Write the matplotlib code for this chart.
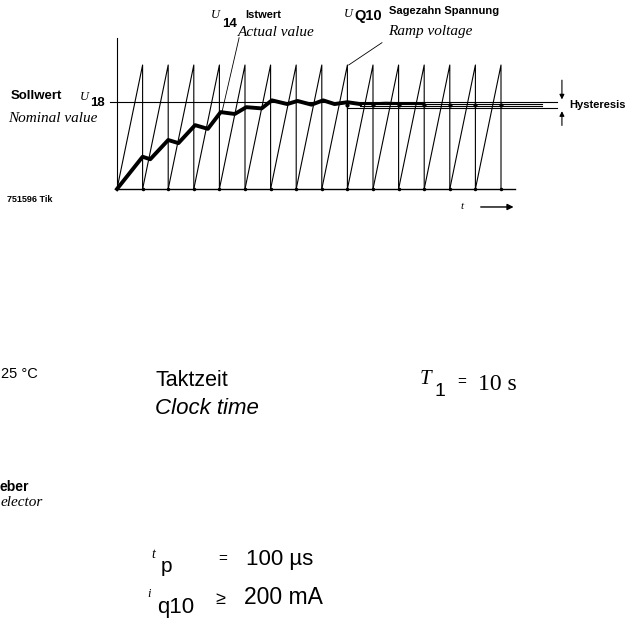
import matplotlib
matplotlib.use("Agg")
import matplotlib.pyplot as plt

W, H = 644, 630
SANS = ["Liberation Sans", "DejaVu Sans"]
SERIF = ["Liberation Serif", "DejaVu Serif"]

# sawtooth U_Q10: one ramp per clock period, drops at these times (clock periods)
ramp_drops = list(range(1, 16))
ramp_peak = 10.0
baseline_end = 15.55

# Sollwert U18 and hysteresis band
setpoint = 7.0
hyst_low = 6.5

# Istwert U14 (thick curve)
actual_t = [0, 1.0, 1.3, 2.0, 2.4, 3.05, 3.55, 4.05, 4.6, 5.05, 5.65,
            6.05, 6.65, 7.05, 7.6, 8.05, 8.5, 9.0, 9.5]
actual_v = [0, 2.6, 2.4, 3.95, 3.7, 5.15, 4.85, 6.2, 6.05, 6.6, 6.5,
            7.15, 6.85, 7.1, 6.8, 7.15, 6.85, 7.0, 6.85]

# thin settled traces inside the band
band_traces = [6.85, 6.7]
band_start, band_end = 9.5, 16.6

# pixel mapping of the drawing (scan geometry)
X0, PX_T = 117, 25.6
Y0, PX_V = 189, 12.4

fig = plt.figure(figsize=(W / 100, H / 100), dpi=100)
ax = fig.add_axes([0, 0, 1, 1])
ax.set_xlim(-X0 / PX_T, (W - X0) / PX_T)
ax.set_ylim(-(H - Y0) / PX_V, Y0 / PX_V)
ax.axis("off")

lw = 0.8
# axes of the sketch
ax.plot([0, 0], [0, 12.2], color="k", lw=lw)
ax.plot([0, baseline_end], [0, 0], color="k", lw=1.0)

# ramps
for k in ramp_drops:
    ax.plot([k - 1, k, k], [0, ramp_peak, 0], color="k", lw=lw)
ax.plot(ramp_drops, [0] * len(ramp_drops), "k.", ms=3)

# setpoint and hysteresis lines
ax.plot([-0.27, 17.2], [setpoint, setpoint], color="k", lw=lw)
ax.plot([9.0, 17.2], [hyst_low, hyst_low], color="k", lw=lw)
for v in band_traces:
    ax.plot([band_start, band_end], [v, v], color="k", lw=lw)
ax.plot([k for k in ramp_drops if k >= 9], [6.8] * 7, "k.", ms=4)

# actual value
ax.plot(actual_t, actual_v, color="k", lw=2.8, solid_joinstyle="round")
ax.plot([9.5, 10.5, 12], [6.85, 6.95, 6.85], color="k", lw=1.6)

# leader lines
ax.plot([4.77, 4.1], [12.2, 6.2], color="k", lw=0.6)
ax.plot([10.35, 9.05], [11.8, 10.0], color="k", lw=0.6)

# hysteresis arrows
hx = 17.38
ax.annotate("", xy=(hx, setpoint), xytext=(hx, 9.0),
            arrowprops=dict(arrowstyle="-|>", color="k", lw=0.8, mutation_scale=7))
ax.annotate("", xy=(hx, hyst_low), xytext=(hx, 4.9),
            arrowprops=dict(arrowstyle="-|>", color="k", lw=0.8, mutation_scale=7))

# time arrow
ax.annotate("", xy=(15.6, -1.45), xytext=(14.1, -1.45),
            arrowprops=dict(arrowstyle="-|>", color="k", lw=1.0, mutation_scale=9))


def put(x, y, s, size, family=SANS, **kw):
    fig.text(x / W, 1 - y / H, s, fontsize=size, family=family,
             va="center", ha="left", **kw)


# chart labels
put(11, 96, "Sollwert", 9.5, weight="bold")
put(80, 97, "U", 9, SERIF, style="italic")
put(90, 103, "18", 9.5, weight="bold")
put(8, 119, "Nominal value", 11, SERIF, style="italic")
put(7, 199, "751596 Tik", 6.5, weight="bold")

put(211, 15, "U", 9, SERIF, style="italic")
put(222, 24, "14", 9.5, weight="bold")
put(245, 15, "Istwert", 8, weight="bold")
put(238, 33, "Actual value", 11, SERIF, style="italic")

put(344, 14, "U", 9, SERIF, style="italic")
put(354, 16, "Q10", 10.5, weight="bold")
put(389, 11, "Sagezahn Spannung", 8, weight="bold")
put(388, 32, "Ramp voltage", 11, SERIF, style="italic")

put(569, 105, "Hysteresis", 8, weight="bold")
put(461, 207, "t", 8, SERIF, style="italic")

# conditions below the sketch
put(1, 374, "25 °C", 10.5)
put(155, 380, "Taktzeit", 15.5)
put(155, 409, "Clock time", 16, style="italic")
put(420, 380, "T", 15, SERIF, style="italic")
put(434, 391, "1", 14)
put(457, 382, "=", 11)
put(478, 385, "10 s", 17, SERIF)

put(0, 487, "eber", 10, weight="bold")
put(1, 503, "elector", 11, SERIF, style="italic")

put(151, 554, "t", 10, SERIF, style="italic")
put(161, 567, "p", 15)
put(218, 559, "=", 11)
put(246, 560, "100 µs", 16)
put(147, 594, "i", 9, SERIF, style="italic")
put(157, 608, "q10", 16)
put(215, 600, "≥", 13)
put(244, 598, "200 mA", 16.5)

fig.savefig("out.png", dpi=100)
